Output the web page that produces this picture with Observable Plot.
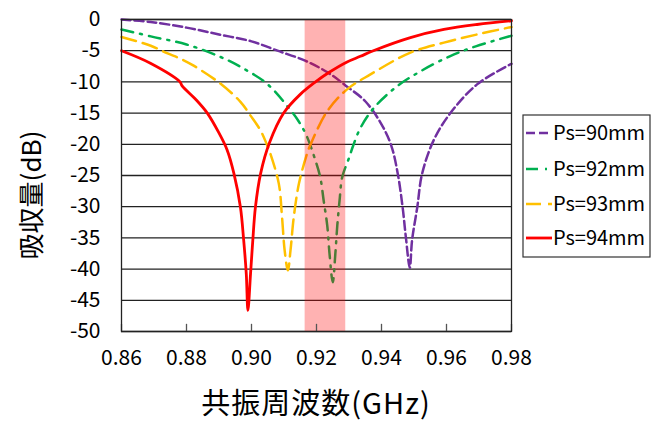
<!DOCTYPE html>
<html><head><meta charset="utf-8">
<script src="https://cdn.jsdelivr.net/npm/d3@7"></script>
<script src="https://cdn.jsdelivr.net/npm/@observablehq/plot@0.6"></script>
<style>body{margin:0;background:#fff}#chart svg{display:block}</style>
</head><body><div id="chart"></div>
<script>
const seriesNames = ["Ps=90mm", "Ps=92mm", "Ps=93mm", "Ps=94mm"];
const seriesColors = ["#7030A0", "#00B050", "#FFC000", "#FF0000"];
const seriesDash = ["9,4", "12,7,2,7", "15,7", null];
const seriesWidth = [2.5, 2.5, 2.5, 2.8];

const f90 = [0.860,0.869,0.880,0.890,0.900,0.908,0.9165,0.9238,0.929,0.935,0.940,0.943,0.945,0.9465,0.9475,0.9487,0.9494,0.951,0.9525,0.9561,0.9612,0.9694,0.980];
const db90 = [0,-0.4,-1.3,-2.4,-3.5,-5.0,-6.6,-8.6,-10.6,-13.1,-16.8,-20.2,-24.7,-30.1,-34.9,-39.8,-35.4,-30.1,-24.7,-19.3,-15.0,-10.4,-7.1];

const f92 = [0.860,0.869,0.880,0.890,0.897,0.905,0.9115,0.9145,0.917,0.9198,0.9212,0.9222,0.9233,0.924,0.925,0.9258,0.9264,0.9271,0.9279,0.930,0.9313,0.9335,0.9376,0.9448,0.952,0.961,0.969,0.980];
const db92 = [-1.6,-2.7,-4.0,-5.9,-7.7,-10.4,-14.2,-16.3,-18.7,-22.8,-25.4,-29.0,-33.0,-37.5,-42.1,-37.5,-33.0,-29.0,-25.3,-22.2,-20.2,-17.4,-14.2,-10.7,-8.3,-5.9,-4.3,-2.6];

const f93 = [0.860,0.869,0.874,0.8782,0.8822,0.8905,0.8966,0.8997,0.9028,0.9047,0.9058,0.9084,0.9094,0.9102,0.9112,0.912,0.913,0.9146,0.9171,0.9182,0.9233,0.9294,0.9366,0.9489,0.9592,0.9694,0.980];
const db93 = [-2.8,-4.2,-5.4,-6.3,-7.4,-10.3,-13.2,-15.4,-17.8,-20.0,-21.5,-26.3,-31.7,-37.0,-40.2,-37.0,-31.7,-26.3,-21.5,-20.0,-14.7,-11.2,-8.8,-5.3,-3.7,-2.4,-1.2];

const f94 = [0.860,0.8689,0.8780,0.8786,0.8830,0.8864,0.8899,0.8925,0.8946,0.8966,0.8976,0.8984,0.8989,0.8997,0.9004,0.9012,0.9028,0.9055,0.9099,0.915,0.9197,0.9238,0.9294,0.9335,0.9375,0.9489,0.9592,0.9694,0.980];
const db94 = [-5.0,-7.0,-10.0,-10.6,-12.9,-15.0,-18.1,-20.9,-24.7,-30.1,-35.4,-40.8,-46.6,-40.8,-35.4,-30.1,-24.7,-19.8,-15.0,-12.0,-10.0,-8.5,-6.8,-5.9,-5.0,-2.9,-1.6,-0.8,-0.2];

const xTicks = [0.86,0.88,0.90,0.92,0.94,0.96,0.98];
const yTicks = [0,-5,-10,-15,-20,-25,-30,-35,-40,-45,-50];
const bandStart = [0.9165];
const bandEnd = [0.929];

const xLabel = "共振周波数(GHz)";
const yLabel = "吸収量(dB)";

const freqs = [f90, f92, f93, f94];
const dbs = [db90, db92, db93, db94];
const seriesData = seriesNames.map((name, i) => freqs[i].map((f, j) => ({series: name, f, db: dbs[i][j]})));
const band = bandStart.map((s, i) => ({x1: s, x2: bandEnd[i]}));
const FONT = "'Noto Sans CJK JP', 'Noto Sans', sans-serif";

const chart = Plot.plot({
  width: 660, height: 421,
  marginLeft: 121, marginRight: 149, marginTop: 19, marginBottom: 90,
  style: {fontFamily: FONT, background: "#fff", color: "#000"},
  x: {domain: [0.86, 0.98]},
  y: {domain: [-50, 0]},
  marks: [
    Plot.ruleY(yTicks, {stroke: "#222", strokeWidth: 1.3}),
    ...seriesData.map((d, i) => Plot.line(d, {
      x: "f", y: "db", stroke: seriesColors[i], strokeWidth: seriesWidth[i],
      strokeDasharray: seriesDash[i] || undefined, curve: "catmull-rom"
    })),
    Plot.rect(band, {x1: "x1", x2: "x2", fill: "#FF0000", fillOpacity: 0.3}),
    Plot.ruleX(xTicks, {y1: -50, y2: -48.85, stroke: "#555", strokeWidth: 1.3}),
    Plot.frame({stroke: "#222", strokeWidth: 1.3}),
    Plot.axisY({ticks: yTicks, tickSize: 0, tickPadding: 21, fontSize: 21, label: null, tickFormat: d => String(d)}),
    Plot.axisX({ticks: xTicks, tickSize: 0, tickPadding: 19, fontSize: 21, label: null, tickFormat: d => d.toFixed(2)})
  ]
});
document.getElementById("chart").appendChild(chart);

const svg = d3.select(chart);
svg.append("text").attr("x", 316).attr("y", 414).attr("text-anchor", "middle")
  .attr("font-family", FONT).attr("font-size", 29).attr("letter-spacing", "1px").attr("fill", "#000").text(xLabel);
svg.append("text").attr("transform", "translate(41,195) rotate(-90)").attr("text-anchor", "middle")
  .attr("font-family", FONT).attr("font-size", 26).attr("fill", "#000").text(yLabel);

const lg = svg.append("g").attr("text-anchor", "start");
lg.append("rect").attr("x", 523).attr("y", 115).attr("width", 127).attr("height", 142)
  .attr("fill", "#fff").attr("stroke", "#333").attr("stroke-width", 1.2);
const rowY = [133, 169, 204, 238];
seriesNames.forEach((name, i) => {
  const ln = lg.append("line").attr("x1", 526).attr("x2", 552).attr("y1", rowY[i]).attr("y2", rowY[i])
    .attr("stroke", seriesColors[i]).attr("stroke-width", seriesWidth[i]);
  if (seriesDash[i]) ln.attr("stroke-dasharray", seriesDash[i]);
  lg.append("text").attr("x", 553).attr("y", rowY[i]).attr("dy", "0.36em").attr("text-anchor", "start")
    .attr("font-family", FONT).attr("font-size", 20).attr("fill", "#000").text(name);
});
</script>
</body></html>
